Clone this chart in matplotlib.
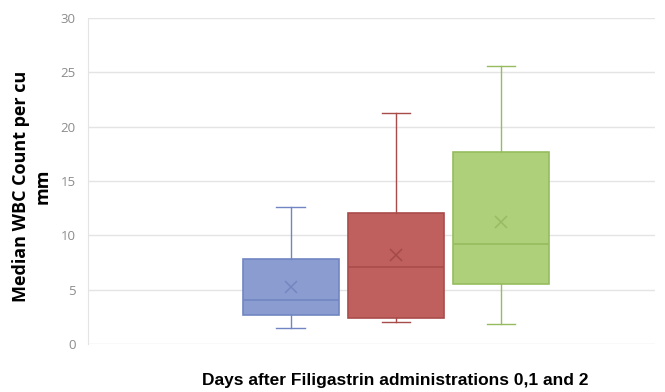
import matplotlib
matplotlib.use("Agg")
import matplotlib.pyplot as plt

# five-number summaries and means per administration day
series = ["Day 0", "Day 1", "Day 2"]
whislo = [1.5, 2.0, 1.85]
q1 = [2.65, 2.35, 5.5]
med = [4.05, 7.1, 9.2]
q3 = [7.8, 12.1, 17.7]
whishi = [12.6, 21.3, 25.6]
means = [5.25, 8.2, 11.2]

fills = ["#8b9dd0", "#c0605e", "#afd07a"]
edges = ["#7185c2", "#a84c4a", "#96bc5f"]
marks = ["#7386c0", "#a44a48", "#97bb63"]

yticks = [0, 5, 10, 15, 20, 25, 30]

fig = plt.figure(figsize=(6.65, 3.92), dpi=100)
ax = fig.add_axes([88 / 665, 48 / 392, 567 / 665, 326 / 392])

stats = []
for i in range(len(series)):
    stats.append(dict(label=series[i], whislo=whislo[i], q1=q1[i], med=med[i],
                      q3=q3[i], whishi=whishi[i], mean=means[i], fliers=[]))

pos = [1, 2, 3]
for i, s in enumerate(stats):
    ax.bxp([s], positions=[pos[i]], widths=0.915, patch_artist=True,
           showmeans=True, showfliers=False,
           boxprops=dict(facecolor=fills[i], edgecolor=edges[i], linewidth=1.2),
           medianprops=dict(color=edges[i], linewidth=1.2),
           whiskerprops=dict(color=edges[i], linewidth=1.0),
           capprops=dict(color=edges[i], linewidth=1.0),
           capwidths=0.27,
           meanprops=dict(marker="x", markeredgecolor=marks[i],
                          markersize=9, markeredgewidth=1.1))

ax.set_xlim(1 - 202.5 / 105, 3 + 154 / 105)
ax.set_ylim(0, 30)
ax.set_yticks(yticks)
ax.set_xticks([])
ax.grid(axis="y", color="#e4e4e4", linewidth=1.0)
ax.set_axisbelow(True)
for side in ["top", "right", "bottom"]:
    ax.spines[side].set_visible(False)
ax.spines["left"].set_color("#e4e4e4")
ax.tick_params(axis="y", length=0, pad=9, labelsize=9.5, labelcolor="#8c8c8c")
for t in ax.get_yticklabels():
    t.set_fontfamily("Open Sans")

fig.text(32 / 665, 1 - 186 / 392, "Median WBC Count per cu\nmm", rotation=90,
         ha="center", va="center", fontsize=13, fontweight="bold",
         family="Open Sans", linespacing=1.3)
fig.text(395 / 665, 1 - 380 / 392, "Days after Filigastrin administrations 0,1 and 2",
         ha="center", va="center", fontsize=12.5, fontweight="bold",
         family="Liberation Sans", color="black")

fig.savefig("out.png", dpi=100)
